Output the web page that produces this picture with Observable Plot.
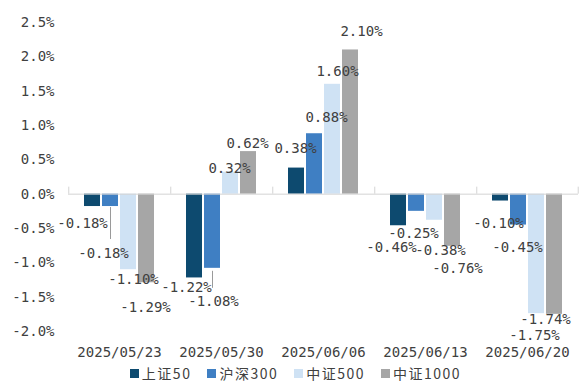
<!DOCTYPE html>
<html>
<head>
<meta charset="utf-8">
<script src="https://cdn.jsdelivr.net/npm/d3@7"></script>
<script src="https://cdn.jsdelivr.net/npm/@observablehq/plot@0.6"></script>
<style>
  body { margin: 0; background: #ffffff; }
  #chart { width: 579px; }
  .legend { display: flex; justify-content: center; gap: 16px; margin-left: 12px; margin-top: 1px;
            font: 14px "Noto Sans CJK SC", sans-serif; color: #404040; letter-spacing: 1.5px; }
  .legend .item { display: flex; align-items: center; gap: 3px; }
  .legend .sw { width: 9px; height: 9px; display: inline-block; }
</style>
</head>
<body>
<div id="chart"></div>
<script>
// ---- data ----
const dates = ["2025/05/23", "2025/05/30", "2025/06/06", "2025/06/13", "2025/06/20"];
const seriesNames = ["上证50", "沪深300", "中证500", "中证1000"];
const sz50   = [-0.18, -1.22, 0.38, -0.46, -0.10];
const hs300  = [-0.18, -1.08, 0.88, -0.25, -0.45];
const zz500  = [-1.10,  0.32, 1.60, -0.38, -1.74];
const zz1000 = [-1.29,  0.62, 2.10, -0.76, -1.75];
const yTicks = [2.5, 2.0, 1.5, 1.0, 0.5, 0.0, -0.5, -1.0, -1.5, -2.0];
const colors = ["#0d4a6f", "#3f7fc3", "#cfe2f4", "#a6a6a6"];

const seriesValues = [sz50, hs300, zz500, zz1000];
const rows = seriesValues.flatMap((vals, s) =>
  vals.map((v, i) => ({date: dates[i], series: seriesNames[s], value: v, si: s, di: i})));

// ---- layout ----
const W = 579, H = 362;
const mt = 22, mb = 31, ml = 67, mr = 1;
const pxPerUnit = (H - mt - mb) / (yTicks[0] - yTicks[yTicks.length - 1]);
const facetW = (W - ml - mr) / dates.length;
const padIn = 0.12, padOut = 0.86;
const step = facetW / (seriesNames.length - padIn + 2 * padOut);
const edgeDx = padOut * step + step * (1 - padIn) / 2;

// label nudges [dx, dy] per series (rows) and date (cols), mimicking the reference placement
const nudge = [
  [[-10, 17], [-8, 10], [-1, -20], [-7, 22], [-2, 22]],
  [[-7, 47], [1, 33], [12, -16], [-3, 22], [-1, 22]],
  [[5, 10], [-1, -4], [5, -13], [6, 30], [9, 6]],
  [[-1, 25], [-1, -8], [11, -18], [5, 22], [-20, 21]]
];
// leader lines: [series index, date index, start px below bar end, end px below bar end]
const leaders = [[1, 0, 1, 33], [1, 1, 3, 20]];

const fmt = v => v.toFixed(2) + "%";
const font = "'DejaVu Sans Mono', 'Noto Sans CJK SC', monospace";
const textColor = "#404040";

const labelMarks = rows.map(r => Plot.text([r], {
  fx: "date", x: "series", y: "value",
  text: d => fmt(d.value),
  dx: nudge[r.si][r.di][0], dy: nudge[r.si][r.di][1],
  fill: textColor, fontSize: 14
}));

const leaderMarks = leaders.map(([s, i, a, b]) => {
  const r = rows.find(d => d.si === s && d.di === i);
  return Plot.ruleX([r], {
    fx: "date", x: "series",
    y1: d => d.value - a / pxPerUnit, y2: d => d.value - b / pxPerUnit,
    stroke: "#9a9a9a", strokeWidth: 1
  });
});

const plot = Plot.plot({
  width: W, height: H,
  marginTop: mt, marginBottom: mb, marginLeft: ml, marginRight: mr,
  style: {fontFamily: font, fontSize: "14px", color: textColor, background: "#fff"},
  fx: {domain: dates, padding: 0, axis: null, label: null},
  x: {domain: seriesNames, paddingInner: padIn, paddingOuter: padOut, axis: null, label: null},
  y: {domain: [yTicks[yTicks.length - 1], yTicks[0]], axis: null, label: null},
  color: {domain: seriesNames, range: colors},
  marks: [
    Plot.axisY({anchor: "left", ticks: yTicks, tickSize: 0, tickPadding: 14,
                tickFormat: d => d.toFixed(1) + "%", label: null, fontSize: 14, fill: textColor}),
    Plot.axisFx({anchor: "bottom", tickSize: 0, tickPadding: 16, label: null, fontSize: 14, fill: textColor}),
    Plot.barY(rows, {fx: "date", x: "series", y: "value", fill: "series"}),
    Plot.ruleY([0], {stroke: "#d4d4d4", strokeWidth: 1}),
    Plot.ruleX(dates, {fx: d => d, x: () => seriesNames[0], dx: -edgeDx,
                       y1: 0, y2: 7 / pxPerUnit, stroke: "#d4d4d4"}),
    Plot.ruleX([dates[dates.length - 1]], {fx: d => d, x: () => seriesNames[seriesNames.length - 1], dx: edgeDx,
                       y1: 0, y2: 7 / pxPerUnit, stroke: "#d4d4d4"}),
    ...leaderMarks,
    ...labelMarks
  ]
});

const chart = document.getElementById("chart");
chart.appendChild(plot);

const legend = document.createElement("div");
legend.className = "legend";
seriesNames.forEach((name, i) => {
  const item = document.createElement("span");
  item.className = "item";
  const sw = document.createElement("span");
  sw.className = "sw";
  sw.style.background = colors[i];
  const label = document.createElement("span");
  label.textContent = name;
  item.appendChild(sw);
  item.appendChild(label);
  legend.appendChild(item);
});
chart.appendChild(legend);
</script>
</body>
</html>
